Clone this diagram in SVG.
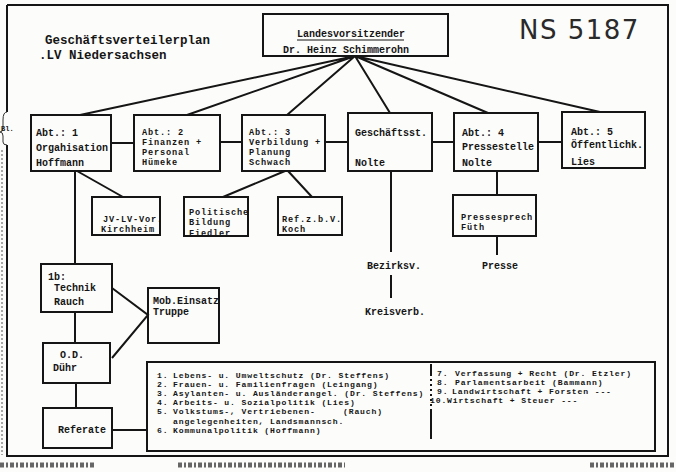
<svg xmlns="http://www.w3.org/2000/svg" width="676" height="472" viewBox="0 0 676 472">
<style>
.box{fill:none;stroke:#151515;stroke-width:2}
.ln{stroke:#151515;stroke-width:2;fill:none}
.t{font-family:"Liberation Mono","DejaVu Sans Mono",monospace;font-weight:bold;font-size:10px;fill:#151515}
.c{font-family:"Liberation Mono","DejaVu Sans Mono",monospace;font-weight:bold;font-size:8.6px;letter-spacing:0.85px;fill:#151515}
.s{font-family:"Liberation Mono","DejaVu Sans Mono",monospace;font-weight:bold;font-size:8.1px;letter-spacing:0.85px;fill:#151515}
.ti{font-family:"Liberation Mono","DejaVu Sans Mono",monospace;font-weight:bold;font-size:12.5px;fill:#151515}
</style>
<rect width="676" height="472" fill="#fcfcfa"/>
<g id="frame">
<path class="ln" d="M7,5 H668 V456 H7 V145 M7,112 V5"/>
<path d="M7,112 q-4,0 -4,8 v8 q0,4 -3,4 q3,0 3,4 v6 q0,3 4,3" fill="none" stroke="#333" stroke-width="1"/>
<line x1="2" y1="150" x2="2" y2="455" stroke="#555" stroke-width="1" stroke-dasharray="2 2"/>
<text x="1" y="131" font-family="Liberation Mono, monospace" font-size="7" font-weight="bold" fill="#222">Bl.</text>
<path d="M0,465 H95 M178,465 H345 M590,465 H676" stroke="#666" stroke-width="5" stroke-dasharray="4 2 2 2" fill="none"/>
</g>
<g id="title">
<text class="ti" x="45" y="44">Geschäftsverteilerplan</text>
<text class="ti" x="39" y="59">.LV Niedersachsen</text>
</g>
<text x="519" y="39" font-family="DejaVu Sans, sans-serif" font-size="26" fill="#2a2a2a" letter-spacing="1.5">NS 5187</text>
<g id="connectors">
<path class="ln" d="M355,56 L80,115 M355,56 L187,115 M355,56 L287,115 M355,56 L390,113 M355,56 L488,113 M355,56 L600,112"/>
<path class="ln" d="M111,143 H134 M220,142 H242 M325,142 H348 M432,142 H454 M538,142 H562"/>
<path class="ln" d="M77,171 L123,197 M285,171 L223,197 M288,171 L312,197"/>
<path class="ln" d="M75,171 V264 M75,312 V343 M76,383 V408 M112,430 H147"/>
<path class="ln" d="M112,288 L148,315 L112,358"/>
<path class="ln" d="M391,171 V252 M391,275 V298"/>
<path class="ln" d="M497,171 V195 M497,236 V255"/>
</g>
<g id="n-landesvorsitzender">
<rect class="box" x="263" y="14" width="185" height="42"/>
<text class="t" x="297" y="37">Landesvorsitzender</text>
<line x1="297" y1="40" x2="404" y2="40" stroke="#151515" stroke-width="1"/>
<text class="t" x="283" y="53">Dr. Heinz Schimmerohn</text>
</g>
<g id="n-abt1">
<rect class="box" x="31" y="115" width="80" height="56"/>
<text class="t" x="36" y="136">Abt.: 1</text>
<text class="t" x="36" y="151">Orgahisation</text>
<text class="t" x="36" y="166">Hoffmann</text>
</g>
<g id="n-abt2">
<rect class="box" x="134" y="115" width="86" height="56"/>
<text class="c" x="142" y="135">Abt.: 2</text>
<text class="c" x="142" y="145">Finanzen +</text>
<text class="c" x="142" y="155">Personal</text>
<text class="c" x="142" y="165">Hümeke</text>
</g>
<g id="n-abt3">
<rect class="box" x="242" y="115" width="83" height="56"/>
<text class="c" x="249" y="135">Abt.: 3</text>
<text class="c" x="249" y="145">Verbildung +</text>
<text class="c" x="249" y="155">Planung</text>
<text class="c" x="249" y="165">Schwach</text>
</g>
<g id="n-geschaeftsst">
<rect class="box" x="348" y="113" width="84" height="58"/>
<text class="t" x="355" y="136">Geschäftsst.</text>
<text class="t" x="355" y="166">Nolte</text>
</g>
<g id="n-abt4">
<rect class="box" x="454" y="113" width="84" height="58"/>
<text class="t" x="462" y="136">Abt.: 4</text>
<text class="t" x="462" y="150">Pressestelle</text>
<text class="t" x="462" y="166">Nolte</text>
</g>
<g id="n-abt5">
<rect class="box" x="562" y="112" width="83" height="56"/>
<text class="t" x="571" y="135">Abt.: 5</text>
<text class="t" x="571" y="148">Öffentlichk.</text>
<text class="t" x="571" y="165">Lies</text>
</g>
<g id="n-jvlv">
<rect class="box" x="92" y="197" width="68" height="38"/>
<text class="c" x="103" y="222" letter-spacing="0">JV-LV-Vor.</text>
<text class="c" x="101" y="232" letter-spacing="0.3">Kirchheim</text>
</g>
<g id="n-politische">
<text class="c" x="189" y="215" letter-spacing="0.3">Politische</text>
<text class="c" x="189" y="225" letter-spacing="0.3">Bildung</text>
<text class="c" x="189" y="236" letter-spacing="0.3">Fiedler</text>
<rect class="box" x="184" y="197" width="64" height="39"/>
</g>
<g id="n-refzbv">
<rect class="box" x="278" y="197" width="64" height="38"/>
<text class="c" x="282" y="222" letter-spacing="0.6">Ref.z.b.V.</text>
<text class="c" x="282" y="232" letter-spacing="0.6">Koch</text>
</g>
<g id="n-pressesprech">
<rect class="box" x="453" y="195" width="83" height="41"/>
<text class="c" x="461" y="220">Pressesprech</text>
<text class="c" x="461" y="230">Füth</text>
</g>
<g id="n-bezirksv"><text class="t" x="367" y="269">Bezirksv.</text></g>
<g id="n-kreisverb"><text class="t" x="365" y="315">Kreisverb.</text></g>
<g id="n-presse"><text class="t" x="482" y="269">Presse</text></g>
<g id="n-technik">
<rect class="box" x="41" y="264" width="71" height="48"/>
<text class="t" x="48" y="280">1b:</text>
<text class="t" x="54" y="291">Technik</text>
<text class="t" x="54" y="305">Rauch</text>
</g>
<g id="n-mob">
<rect class="box" x="148" y="288" width="71" height="55"/>
<text class="t" x="153" y="304">Mob.Einsatz</text>
<text class="t" x="153" y="315">Truppe</text>
</g>
<g id="n-od">
<rect class="box" x="43" y="343" width="67" height="40"/>
<text class="t" x="60" y="358">O.D.</text>
<text class="t" x="53" y="371">Dühr</text>
</g>
<g id="n-referate">
<rect class="box" x="43" y="408" width="69" height="40"/>
<text class="t" x="58" y="433">Referate</text>
</g>
<g id="n-liste">
<rect class="box" x="147" y="362" width="508" height="89"/>
<line x1="431" y1="364" x2="431" y2="450" stroke="#151515" stroke-width="2" stroke-dasharray="12 3 2 3 2 3 2 3 2 3 2 3 2 3 30"/>
<text class="s" x="157" y="377.5">1.</text><text class="s" x="173" y="377.5">Lebens- u. Umweltschutz (Dr. Steffens)</text>
<text class="s" x="157" y="386.7">2.</text><text class="s" x="173" y="386.7">Frauen- u. Familienfragen (Leingang)</text>
<text class="s" x="157" y="395.9">3.</text><text class="s" x="173" y="395.9">Asylanten- u. Ausländerangel. (Dr. Steffens)</text>
<text class="s" x="157" y="405.1">4.</text><text class="s" x="173" y="405.1">Arbeits- u. Sozialpolitik (Lies)</text>
<text class="s" x="157" y="414.3">5.</text><text class="s" x="173" y="414.3">Volkstums-, Vertriebenen-</text><text class="s" x="343" y="414.3">(Rauch)</text>
<text class="s" x="173" y="423.5">angelegenheiten, Landsmannsch.</text>
<text class="s" x="157" y="432.7">6.</text><text class="s" x="173" y="432.7">Kommunalpolitik (Hoffmann)</text>
<text class="s" x="437" y="375.5">7.</text><text class="s" x="455" y="375.5">Verfassung + Recht (Dr. Etzler)</text>
<text class="s" x="437" y="384.7">8.</text><text class="s" x="455" y="384.7">Parlamentsarbeit (Bammann)</text>
<text class="s" x="437" y="393.9">9.</text><text class="s" x="452" y="393.9">Landwirtschaft + Forsten  ---</text>
<text class="s" x="430" y="403.1">10.</text><text class="s" x="447" y="403.1">Wirtschaft + Steuer  ---</text>
</g>
</svg>
